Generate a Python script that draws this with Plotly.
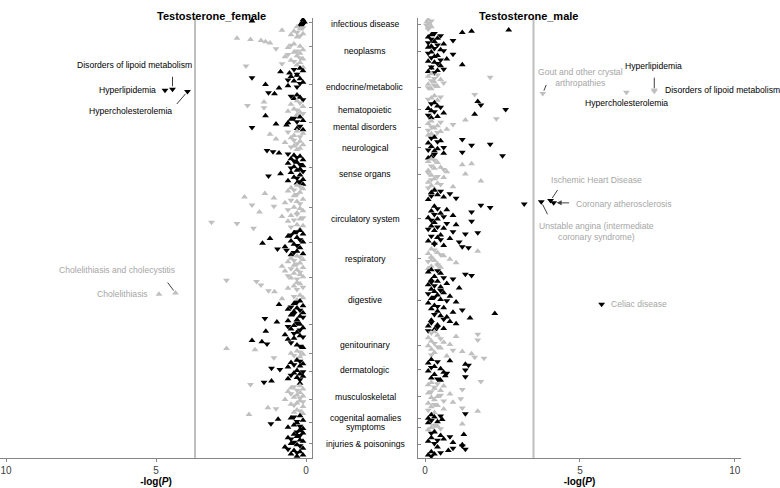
import plotly.graph_objects as go

BLACK = "#000000"
GREY = "#BFBFBF"
AXIS = "#868686"

CATEGORIES = ["infectious disease", "neoplasms", "endocrine/metabolic", "hematopoietic",
              "mental disorders", "neurological", "sense organs", "circulatory system",
              "respiratory", "digestive", "genitourinary", "dermatologic",
              "musculoskeletal", "cogenital aomalies", "symptoms", "injuries & poisonings"]

# signed -log(P) per phenotype, top to bottom within each category
# (+ = positive association, drawn as up triangle; - = negative, down triangle)

# Testosterone_female
f_infectious = [0.1, 1.8, 0.05, 0.15, -0.1, 0.2]
f_neoplasms = [0.3, -0.1, 0.2, 0.8, 0.4, -0.3, 0.1, 0.5, -0.2, 0.3, 2.3, 1.85, 1.5, 1.35, 1.2,
               0.4, -0.5, 0.2, 0.6, -1.0, 0.1, -0.3, 0.4, 0.2, -0.6, 0.3, 0.7, -0.2, 0.1, 0.5,
               -0.4, 0.2, -0.8, 0.3, -2.0, 0.1]
f_endocrine = [0.2, -0.4, 0.1, 0.85, 0.55, -0.3, 0.3, 0.5, -1.8, 0.2, -0.6, 0.4, 0.1, -0.2,
               1.35, 0.6, -0.3, 0.9, -4.45, -4.7, -3.95, -1.25, 1.05, 0.3, -0.5, 0.2, 0.4, -0.1]
f_hematopoietic = [0.3, 1.4, -0.2, 0.5, -1.95, 0.1, -1.4, 0.4, -0.3, 0.6, 0.2, -0.1, 0.3]
f_mental = [1.35, 0.2, -0.4, 0.5, 0.1, -0.3, 0.6, 1.0, 0.65, -0.2, -1.8, 0.3, 0.1]
f_neurological = [0.3, -0.6, 0.1, 1.2, 0.4, -0.2, 0.5, 1.0, -0.4, 0.2, 0.7, -0.3, 0.1, 0.4,
                  -0.5, 0.2, 0.3]
f_sense = [-1.3, -1.1, 0.9, -0.6, 0.4, 0.2, -0.3, 0.5, 0.1, -0.4, 0.3, 0.6, -0.2, 0.1, 0.4,
           -0.5, 0.2, 0.3, -0.1, 0.5, 0.85, 0.2, -1.25, 0.4, -0.3, 0.1, 0.6, -0.2, 0.3, 0.1]
f_circulatory = [0.3, -0.2, 0.5, 0.1, -0.4, 0.6, 0.2, 1.37, -0.3, 0.4, 2.05, 1.07, 0.1, -0.5,
                 0.3, 0.7, -0.2, -1.8, -1.07, 0.4, 0.2, -0.6, 0.1, 1.55, 0.3, -0.3, 0.5, 0.8,
                 -0.1, 0.2, -0.4, 0.6, -3.15, -2.3, 0.3, 0.1, -0.5, -1.75, 0.2]
f_respiratory = [0.2, -0.3, 0.4, 0.1, -0.5, 0.6, 0.3, 1.2, -0.2, 0.5, 0.1, 1.45, 0.4, -0.3,
                 0.7, 0.2, -0.95, -0.65, 0.3, -0.4, 0.1, 0.5]
f_digestive = [0.3, -0.2, 0.5, 0.1, -0.4, 0.6, 0.2, -0.3, 0.4, 0.8, 0.1, -0.5, 0.3, 0.7, -0.2,
               0.4, 0.2, -0.6, 0.1, 0.5, -0.3, -2.65, -1.65, 0.3, 0.2, -1.5, 0.4, -0.1, 0.6,
               -0.3, -1.25, 1.05, 4.35, 4.9, 0.2, -0.4, 0.1, 0.8, 0.3]
f_genitourinary = [0.2, -0.3, 0.4, 0.9, 0.1, -0.5, 0.3, 0.6, -0.2, 0.4, 0.1, -0.4, 0.5, 0.2,
                   -0.1, -1.37, 0.3, 0.6, 0.97, -0.3, 0.2, 0.4, -0.6, 0.1, 0.5, -0.2, 1.34,
                   0.3, -0.4, 0.7, 0.2, -0.1, 0.4, 0.6, 1.8, 1.47, -0.5, -1.3, 0.3, -0.2, 0.1]
f_dermatologic = [2.65, 1.7, 0.3, -0.2, 0.5, 0.1, -0.4, 0.2, -1.07, 0.3]
f_musculoskeletal = [0.3, -0.2, 0.5, 0.1, -0.4, 0.2, 0.6, -1.15, -0.87, 0.3, -0.1, 0.4, 0.2,
                     -0.5, 0.1, 0.3, 0.6, -0.2, 1.15, -1.4, 0.2]
f_congenital = [-1.85, 0.2, -0.4, 0.5, 0.1, -0.3, 0.6, 0.2, -0.5, 0.3, 0.1, 0.4, -0.2, 0.7,
                0.2, -0.1, 0.3, 0.5, -0.4, 0.1, 1.27, -1.0, 0.3, -0.2, 0.4, 0.1, 1.9]
f_symptoms = [0.2, -0.4, 0.5, 0.93, 0.1, -0.3, 0.3, -1.17, 0.4, -0.2, 0.6, 0.1, 0.2]
f_injuries = [0.2, -0.3, 0.1, 0.4, -0.2, 0.3, 0.6, -0.5, 0.2, 0.1, -0.4, 0.5, 0.3, -0.2, 0.7,
              0.1, -0.6, 0.4, 0.2, -0.3, 0.5, 0.1, 0.3]

# Testosterone_male
m_infectious = [0.1, -0.2, 0.05, -0.1, 0.15, -0.05, 0.2, 0.1, -0.1]
m_neoplasms = [2.7, 1.5, 1.2, -0.3, 0.2, -0.5, 0.1, 0.4, -0.2, -0.9, 0.3, -0.1, 0.6, -0.4, 0.2,
               0.1, -0.3, 0.5, -0.6, 0.2, -0.1, -0.9, 0.4, 0.3, -0.2, 0.7, -0.5, 0.1, 0.3, -0.4,
               1.2, 0.5, -0.2, 0.2, -0.6, 0.4, 0.1, -0.3]
m_endocrine = [0.2, -0.4, 0.1, -2.1, -0.3, 0.5, -0.2, 0.3, -0.6, 0.1, -0.3, 0.4, -0.1, 0.2,
               -7.4, -7.4, -6.5, -3.8, -1.6, 0.3, -0.5, 0.2, -0.1, 0.4]
m_hematopoietic = [1.7, 0.3, -0.2, -1.8, 0.4, -0.5, 0.1, -2.6, 0.2, -0.3, 0.6, 1.6, -0.1, 0.4,
                   0.2]
m_mental = [-2.3, 1.3, 0.2, -0.5, 0.1, -0.9, 0.4, -0.2, 0.3, 0.7, -0.1, 0.5, -0.4, 0.2, 0.1,
            -0.3]
m_neurological = [0.3, -0.2, -1.2, 0.5, -0.4, 0.1, -2.1, -1.5, 0.2, -0.6, 0.4, -0.1, 0.3, -1.2,
                  0.6, -0.3, -2.5, 0.2, 0.1]
m_sense = [0.2, -0.3, 0.1, 0.4, 1.5, 1.2, -0.2, 0.5, 0.3, -0.6, 0.1, 0.7, -0.1, 1.3, 0.2, -0.4,
           0.6, 0.3, -0.2, 1.8, 0.1, 0.4, -0.5, 0.2, 0.9, -0.1, 0.3]
m_circulatory = [0.3, -0.5, 0.2, -0.8, 0.4, -0.2, 0.6, -1.0, 0.1, -4.05, -3.75, -4.15, -3.2,
                 -1.8, 0.3, -2.1, -0.4, 0.7, 0.2, -1.5, 0.5, -0.3, 0.9, -0.6, 0.1, 0.4, -0.2,
                 -1.5, 0.3, -0.7, 1.0, 0.2, -0.4, 0.6, -0.1, 0.3, -0.9, -1.7, -1.3, 0.5, -0.2,
                 0.4, 0.8, -0.5, 0.1, -1.1, 0.3, -0.3, 0.6, -1.2, -1.4]
m_respiratory = [0.2, -0.3, 1.7, 0.4, 0.1, -0.5, 0.6, 0.2, -0.2, 0.8, 0.3, -0.1, 1.0, 0.4,
                 -0.4, 0.2, 0.5, 0.1]
m_digestive = [0.2, -0.4, 0.1, 0.5, -1.3, -1.5, 0.3, -0.6, -0.9, 0.2, 0.4, -0.2, 0.7, 0.1, -0.3,
               0.5, 1.1, 0.2, -0.5, 0.3, 0.6, -0.1, 0.4, 0.8, -0.3, 0.2, 0.5, -0.7, 1.0, 0.1,
               -5.7, 0.3, -0.4, 0.6, 0.2, -1.2, 0.4, 0.9, 2.25, -0.3, 0.5, 0.7, 1.45, -0.6, 0.2,
               0.8, -0.2, 1.0, 0.4, 0.1, -0.4, 0.6, 0.3, -0.1]
m_genitourinary = [0.3, -0.2, -1.7, 0.4, 1.0, 0.1, -0.5, -1.7, 0.2, 0.6, -0.3, 0.8, 0.1, -0.4,
                   0.5, 0.2, -0.9, 1.2, 0.3, 1.5, -0.2, 0.7, -1.6, -1.9]
m_dermatologic = [0.2, 0.8, -0.4, 0.1, 1.3, -1.4, 0.3, -0.2, 0.5, -1.3, 0.1, 0.6, -0.7, 0.3,
                  0.65, -1.3, 0.2, -0.4, 0.5]
m_musculoskeletal = [-1.8, 0.2, -0.4, 0.1, 0.6, -0.3, 0.3, -1.2, 0.5, -0.2, 0.1, 0.8, -0.5, 0.4,
                     0.2, -1.15, 0.3, -0.6, 0.9, 0.1, -0.3, 0.4, 0.2, -1.2, 0.6, -0.1, 1.7, 0.3]
m_congenital = [-1.3, 0.2, -0.5, 0.3, 0.1, 0.55, -0.2, 0.4, 0.1]
m_symptoms = [1.2, -0.3, 0.4, 0.2, -0.5, 0.1, 0.3]
m_injuries = [0.3, -0.2, 1.25, 0.5, -0.8, 0.2, 0.6, -0.4, 0.1, 0.9, -0.3, 1.2, -1.2, 0.4, -0.9,
              -1.3, 0.75, 0.2, -0.5, 0.3, 0.1, -0.2]

female = [f_infectious, f_neoplasms, f_endocrine, f_hematopoietic, f_mental, f_neurological,
          f_sense, f_circulatory, f_respiratory, f_digestive, f_genitourinary, f_dermatologic,
          f_musculoskeletal, f_congenital, f_symptoms, f_injuries]
male = [m_infectious, m_neoplasms, m_endocrine, m_hematopoietic, m_mental, m_neurological,
        m_sense, m_circulatory, m_respiratory, m_digestive, m_genitourinary, m_dermatologic,
        m_musculoskeletal, m_congenital, m_symptoms, m_injuries]

female_colours = [BLACK, GREY] * 7 + [BLACK, BLACK]
male_colours = [GREY, BLACK] * 8

F_THRESHOLD = 3.7
M_THRESHOLD = 3.5

# labelled phenotypes: (text, category index, position in category)
female_labels = [
    ("Disorders of lipoid metabolism", 2, 18),
    ("Hyperlipidemia", 2, 19),
    ("Hypercholesterolemia", 2, 20),
    ("Cholelithiasis and cholecystitis", 9, 32),
    ("Cholelithiasis", 9, 33),
]
male_labels = [
    ("Disorders of lipoid metabolism", 2, 14),
    ("Hyperlipidemia", 2, 15),
    ("Hypercholesterolemia", 2, 16),
    ("Gout and other crystal<br>arthropathies", 2, 17),
    ("Ischemic Heart Disease", 7, 9),
    ("Unstable angina (intermediate<br>coronary syndrome)", 7, 10),
    ("Coronary atherosclerosis", 7, 11),
    ("Celiac disease", 9, 30),
]


def build_panel(groups, colours):
    xs, ys, syms, cols, starts, centres = [], [], [], [], [], []
    n = 0
    for vals, col in zip(groups, colours):
        starts.append(n)
        for v in vals:
            xs.append(abs(v))
            ys.append(n)
            syms.append("triangle-up" if v > 0 else "triangle-down")
            cols.append(col)
            n += 1
        centres.append(starts[-1] + (len(vals) - 1) / 2)
    return xs, ys, syms, cols, starts, centres, n


fx, fy, fsym, fcol, fstart, fcent, fn = build_panel(female, female_colours)
mx, my, msym, mcol, mstart, mcent, mn = build_panel(male, male_colours)

W, H = 780, 488
ML, MR, MT, MB = 0, 39, 18, 30
PW = W - ML - MR
PH = H - MT - MB
FS = 8.6


def px(x):
    return (x - ML) / PW


def py(y):
    return (H - MB - y) / PH


fig = go.Figure()
fig.add_trace(go.Scatter(
    x=fx, y=fy, mode="markers", xaxis="x", yaxis="y",
    marker=dict(symbol=fsym, color=fcol, size=6, line_width=0),
    hoverinfo="skip", showlegend=False,
))
fig.add_trace(go.Scatter(
    x=mx, y=my, mode="markers", xaxis="x2", yaxis="y2",
    marker=dict(symbol=msym, color=mcol, size=6, line_width=0),
    hoverinfo="skip", showlegend=False,
))

xcommon = dict(
    tickvals=[0, 5, 10], ticks="outside", ticklen=3, tickcolor=AXIS,
    showline=True, linecolor=AXIS, linewidth=1, showgrid=False, zeroline=False,
    tickfont=dict(size=10, color="#404040"),
    title=dict(text="<b>-log(<i>P</i>)</b>", font=dict(size=10, color="#000"), standoff=0),
)
ycommon = dict(
    showline=True, linecolor=AXIS, linewidth=1, showgrid=False, zeroline=False,
    ticks="inside", ticklen=3, tickcolor=AXIS, showticklabels=False, domain=[0, 1],
)

fig.update_layout(
    width=W, height=H,
    margin=dict(l=ML, r=MR, t=MT, b=MB),
    paper_bgcolor="white", plot_bgcolor="white",
    font=dict(family="Liberation Sans, Arial, sans-serif", size=FS, color="#000"),
    xaxis=dict(domain=[0, px(312)], range=[10.2, -0.2], anchor="y", **xcommon),
    xaxis2=dict(domain=[px(418), 1], range=[-0.23, 10.2], anchor="y2", **xcommon),
    yaxis=dict(range=[fn + 0.5, -1.5], anchor="x", side="right", tickvals=fcent, **ycommon),
    yaxis2=dict(range=[mn + 0.5, -1.5], anchor="x2", side="left", tickvals=mcent, **ycommon),
)

fig.add_shape(type="line", xref="x", yref="y domain", x0=F_THRESHOLD, x1=F_THRESHOLD,
              y0=0, y1=1, line=dict(color=GREY, width=2))
fig.add_shape(type="line", xref="x2", yref="y2 domain", x0=M_THRESHOLD, x1=M_THRESHOLD,
              y0=0, y1=1, line=dict(color=GREY, width=2))

# panel titles
for text, x in [("Testosterone_female", 155), ("Testosterone_male", 580)]:
    fig.add_annotation(xref="paper", yref="paper", x=px(x), y=py(8), text=f"<b>{text}</b>",
                       showarrow=False, font=dict(size=11, color="#000"))

# category labels, centred on the male panel's groups
for name, c in zip(CATEGORIES, mcent):
    fig.add_annotation(xref="paper", yref="y2", x=px(365), y=c, text=name,
                       showarrow=False, font=dict(size=FS, color="#000"))

# label placement (text offset dx, dy in px, anchor, colour, leader tail offset or None, head)
female_style = [
    (-38, -24, "center", BLACK, (0, -14), 0),
    (-7, 0, "right", BLACK, None, 0),
    (-57, 19, "center", BLACK, (-12, 14), 0),
    (-59, -23, "center", "#A6A6A6", (-9, -12), 0),
    (-9, 0, "right", "#A6A6A6", None, 0),
]
male_style = [
    (9, 0, "left", BLACK, None, 0),
    (-1, -25, "center", BLACK, (0, -15), 0),
    (0, 11, "center", BLACK, None, 0),
    (38, -16, "center", "#A6A6A6", (4, -10), 0),
    (46, -21, "center", "#A6A6A6", (8, -12), 0),
    (55, 30, "center", "#A6A6A6", (7, 14), 0),
    (20, 1, "left", "#A6A6A6", (17, 0), 2),
    (7, 0, "left", "#A6A6A6", None, 0),
]


def add_labels(labels, styles, groups, starts, xref, yref):
    for (text, g, pos), (dx, dy, anchor, colour, tail, head) in zip(labels, styles):
        x = abs(groups[g][pos])
        y = starts[g] + pos
        fig.add_annotation(xref=xref, yref=yref, x=x, y=y, text=text, showarrow=False,
                           xanchor=anchor, xshift=dx, yshift=-dy,
                           font=dict(size=FS, color=colour))
        if tail is not None:
            fig.add_annotation(xref=xref, yref=yref, x=x, y=y, text="", showarrow=True,
                               ax=tail[0], ay=tail[1], arrowhead=head, arrowsize=1,
                               arrowwidth=1, arrowcolor="#404040", standoff=3)


add_labels(female_labels, female_style, female, fstart, "x", "y")
add_labels(male_labels, male_style, male, mstart, "x2", "y2")

fig.write_html("out.html", config={"displayModeBar": False},
               post_script="document.body.style.margin='0';")
